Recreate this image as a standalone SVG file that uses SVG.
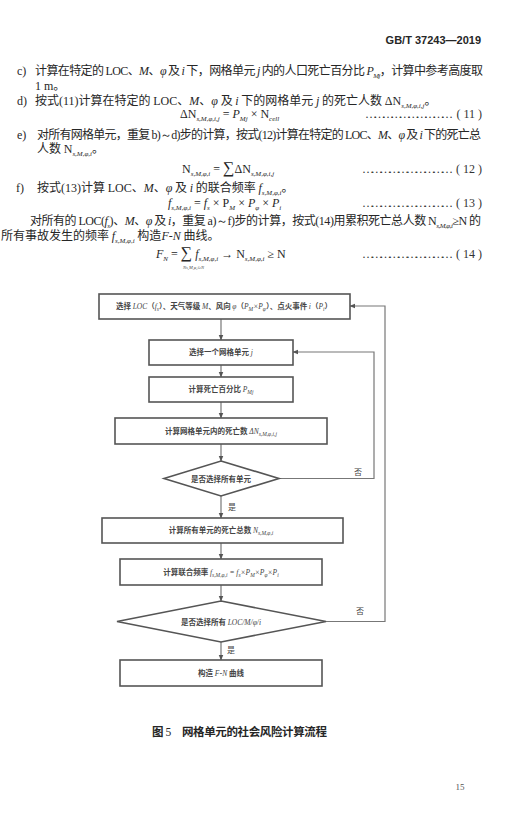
<svg xmlns="http://www.w3.org/2000/svg" width="525" height="827" viewBox="0 0 525 827">
<style>
.t{font-family:"Noto Sans CJK SC","Noto Sans",sans-serif;font-size:12px;fill:#262626}
.m{font-family:"Liberation Serif",serif;font-style:italic}
.r{font-family:"Liberation Serif",serif}
.s{font-size:7px}
.f{font-family:"Noto Sans CJK SC","Noto Sans",sans-serif;font-size:7.5px;font-weight:bold;fill:#444}
.fm{font-family:"Liberation Serif",serif;font-style:italic;font-weight:normal}
.fs{font-size:5.5px}
.box{fill:#fff;stroke:#555;stroke-width:1.6}
.ln{fill:none;stroke:#777;stroke-width:1.2}
.lbl{font-family:"Noto Sans CJK SC",sans-serif;font-size:8px;fill:#444}
.dots{font-family:"Liberation Serif",serif;font-size:12px;fill:#333}
</style>
<defs>
<marker id="ah" viewBox="0 0 10 10" refX="9" refY="5" markerWidth="5" markerHeight="5" orient="auto">
<path d="M0,1 L10,5 L0,9 z" fill="#555"/>
</marker>
</defs>
<rect width="525" height="827" fill="#fff"/>

<g id="page-text">
<text x="481" y="44" text-anchor="end" style="font-family:'Liberation Sans',sans-serif;font-weight:bold;font-size:11px;fill:#262626">GB/T 37243—2019</text>

<text class="t" x="17" y="75"><tspan class="r">c)</tspan></text>
<text class="t" x="35" y="75" textLength="448" lengthAdjust="spacing">计算在特定的 <tspan class="r">LOC</tspan>、<tspan class="m">M</tspan>、<tspan class="m">φ</tspan> 及 <tspan class="m">i</tspan> 下，网格单元 <tspan class="m">j</tspan> 内的人口死亡百分比 <tspan class="m">P</tspan><tspan class="m s" dy="3">Mj</tspan><tspan dy="-3">，计算中参考高度取</tspan></text>
<text class="t" x="35" y="90"><tspan class="r">1 m</tspan>。</text>

<text class="t" x="17" y="105"><tspan class="r">d)</tspan></text>
<text class="t" x="35" y="105">按式<tspan class="r">(11)</tspan>计算在特定的 <tspan class="r">LOC</tspan>、<tspan class="m">M</tspan>、<tspan class="m">φ</tspan> 及 <tspan class="m">i</tspan> 下的网格单元 <tspan class="m">j</tspan> 的死亡人数 <tspan class="r">ΔN</tspan><tspan class="m s" dy="3">s,M,φ,i,j</tspan><tspan dy="-3">。</tspan></text>
<text class="t r" x="180" y="118">ΔN<tspan class="m s" dy="3">s,M,φ,i,j</tspan><tspan dy="-3"> = </tspan><tspan class="m">P</tspan><tspan class="m s" dy="3">Mj</tspan><tspan dy="-3"> × N</tspan><tspan class="m s" dy="3">cell</tspan></text>
<text class="dots" x="365" y="118" textLength="88" lengthAdjust="spacing">…………………………</text>
<text class="dots" x="482" y="118" text-anchor="end">( 11 )</text>

<text class="t" x="17" y="139"><tspan class="r">e)</tspan></text>
<text class="t" x="37" y="139" textLength="444" lengthAdjust="spacing">对所有网格单元，重复 <tspan class="r">b)～d)</tspan>步的计算，按式<tspan class="r">(12)</tspan>计算在特定的 <tspan class="r">LOC</tspan>、<tspan class="m">M</tspan>、<tspan class="m">φ</tspan> 及 <tspan class="m">i</tspan> 下的死亡总</text>
<text class="t" x="37" y="153">人数 <tspan class="r">N</tspan><tspan class="m s" dy="3">s,M,φ,i</tspan><tspan dy="-3">。</tspan></text>
<text class="t r" x="182" y="173">N<tspan class="m s" dy="3">s,M,φ,i</tspan><tspan dy="-3"> = </tspan><tspan style="font-size:16px">∑</tspan><tspan>ΔN</tspan><tspan class="m s" dy="3">s,M,φ,i,j</tspan></text>
<text x="233" y="186" style="font-family:'Liberation Serif',serif;font-style:italic;font-size:6px;fill:#333">j</text>
<text class="dots" x="362" y="173" textLength="91" lengthAdjust="spacing">…………………………</text>
<text class="dots" x="482" y="173" text-anchor="end">( 12 )</text>

<text class="t" x="16" y="192"><tspan class="r">f)</tspan></text>
<text class="t" x="37" y="192">按式<tspan class="r">(13)</tspan>计算 <tspan class="r">LOC</tspan>、<tspan class="m">M</tspan>、<tspan class="m">φ</tspan> 及 <tspan class="m">i</tspan> 的联合频率 <tspan class="m">f</tspan><tspan class="m s" dy="3">s,M,φ,i</tspan><tspan dy="-3">。</tspan></text>
<text class="t r" x="168" y="207"><tspan class="m">f</tspan><tspan class="m s" dy="3">s,M,φ,i</tspan><tspan dy="-3"> = </tspan><tspan class="m">f</tspan><tspan class="m s" dy="3">s</tspan><tspan dy="-3"> × P</tspan><tspan class="m s" dy="3">M</tspan><tspan dy="-3"> × </tspan><tspan class="m">P</tspan><tspan class="m s" dy="3">φ</tspan><tspan dy="-3"> × </tspan><tspan class="m">P</tspan><tspan class="m s" dy="3">i</tspan></text>
<text class="dots" x="362" y="207" textLength="91" lengthAdjust="spacing">…………………………</text>
<text class="dots" x="482" y="207" text-anchor="end">( 13 )</text>

<text class="t" x="30" y="225" textLength="451" lengthAdjust="spacing">对所有的 <tspan class="r">LOC(</tspan><tspan class="m">f</tspan><tspan class="m s" dy="3">s</tspan><tspan class="r" dy="-3">)</tspan>、<tspan class="m">M</tspan>、<tspan class="m">φ</tspan> 及 <tspan class="m">i</tspan>，重复 <tspan class="r">a)～f)</tspan>步的计算，按式<tspan class="r">(14)</tspan>用累积死亡总人数 <tspan class="r">N</tspan><tspan class="m s" dy="3">s,M,φ,i</tspan><tspan class="r" dy="-3">≥N</tspan> 的</text>
<text class="t" x="1" y="240">所有事故发生的频率 <tspan class="m">f</tspan><tspan class="m s" dy="3">s,M,φ,i</tspan><tspan dy="-3"> 构造</tspan><tspan class="m">F</tspan><tspan class="r">-</tspan><tspan class="m">N</tspan> 曲线。</text>
<text class="t r" x="156" y="258"><tspan class="m">F</tspan><tspan class="m s" dy="3">N</tspan><tspan dy="-3"> = </tspan><tspan style="font-size:16px">∑</tspan><tspan class="m"> f</tspan><tspan class="m s" dy="3">s,M,φ,i</tspan><tspan dy="-3"> → N</tspan><tspan class="m s" dy="3">s,M,φ,i</tspan><tspan dy="-3"> ≥ N</tspan></text>
<text x="183" y="269" style="font-family:'Liberation Serif',serif;font-style:italic;font-size:4.5px;fill:#444">N<tspan>s,M,φ,i</tspan>≥N</text>
<text class="dots" x="362" y="258" textLength="91" lengthAdjust="spacing">…………………………</text>
<text class="dots" x="482" y="258" text-anchor="end">( 14 )</text>
</g>

<g id="connectors">
<line class="ln" x1="221" y1="319" x2="221" y2="340" marker-end="url(#ah)"/>
<line class="ln" x1="221" y1="365" x2="221" y2="377" marker-end="url(#ah)"/>
<line class="ln" x1="221" y1="402" x2="221" y2="418" marker-end="url(#ah)"/>
<line class="ln" x1="221" y1="444" x2="221" y2="461" marker-end="url(#ah)"/>
<line class="ln" x1="221" y1="496" x2="221" y2="518" marker-end="url(#ah)"/>
<line class="ln" x1="221" y1="543" x2="221" y2="559" marker-end="url(#ah)"/>
<line class="ln" x1="221" y1="585" x2="221" y2="601" marker-end="url(#ah)"/>
<line class="ln" x1="221" y1="642" x2="221" y2="660" marker-end="url(#ah)"/>
<polyline class="ln" points="279,478.5 374,478.5 374,352 293,352" marker-end="url(#ah)"/>
<polyline class="ln" points="326,621.5 385,621.5 385,306 350,306" marker-end="url(#ah)"/>
<text class="lbl" x="358" y="475" text-anchor="middle">否</text>
<text class="lbl" x="360" y="614" text-anchor="middle">否</text>
<text class="lbl" x="232" y="510" text-anchor="middle">是</text>
<text class="lbl" x="231" y="653" text-anchor="middle">是</text>
</g>

<g id="n1">
<rect class="box" x="99" y="294" width="251" height="25"/>
<text class="f" x="224" y="309" text-anchor="middle">选择 <tspan class="fm">LOC</tspan>（<tspan class="fm">f</tspan><tspan class="fm fs" dy="2">s</tspan><tspan dy="-2">）、天气等级 </tspan><tspan class="fm">M</tspan>、风向 <tspan class="fm">φ</tspan>（<tspan class="fm">P</tspan><tspan class="fm fs" dy="2">M</tspan><tspan class="fm" dy="-2">×P</tspan><tspan class="fm fs" dy="2">φ</tspan><tspan dy="-2">）、点火事件 </tspan><tspan class="fm">i</tspan>（<tspan class="fm">P</tspan><tspan class="fm fs" dy="2">i</tspan><tspan dy="-2">）</tspan></text>
</g>
<g id="n2">
<rect class="box" x="149" y="340" width="144" height="25"/>
<text class="f" x="221" y="355" text-anchor="middle">选择一个网格单元 <tspan class="fm">j</tspan></text>
</g>
<g id="n3">
<rect class="box" x="149" y="377" width="144" height="25"/>
<text class="f" x="221" y="392" text-anchor="middle">计算死亡百分比 <tspan class="fm">P</tspan><tspan class="fm fs" dy="2">Mj</tspan></text>
</g>
<g id="n4">
<rect class="box" x="115" y="418" width="212" height="26"/>
<text class="f" x="221" y="434" text-anchor="middle">计算网格单元内的死亡数 <tspan class="fm">ΔN</tspan><tspan class="fm fs" dy="2">s,M,φ,i,j</tspan></text>
</g>
<g id="d1">
<polygon class="box" points="221,461 279,478.5 221,496 164,478.5"/>
<text class="f" x="221" y="481.5" text-anchor="middle">是否选择所有单元</text>
</g>
<g id="n5">
<rect class="box" x="102" y="518" width="241" height="25"/>
<text class="f" x="221" y="533" text-anchor="middle">计算所有单元的死亡总数 <tspan class="fm">N</tspan><tspan class="fm fs" dy="2">s,M,φ,i</tspan></text>
</g>
<g id="n6">
<rect class="box" x="120" y="559" width="202" height="26"/>
<text class="f" x="221" y="575" text-anchor="middle">计算联合频率 <tspan class="fm">f</tspan><tspan class="fm fs" dy="2">s,M,φ,i</tspan><tspan class="fm" dy="-2"> = f</tspan><tspan class="fm fs" dy="2">s</tspan><tspan class="fm" dy="-2">×P</tspan><tspan class="fm fs" dy="2">M</tspan><tspan class="fm" dy="-2">×P</tspan><tspan class="fm fs" dy="2">φ</tspan><tspan class="fm" dy="-2">×P</tspan><tspan class="fm fs" dy="2">i</tspan></text>
</g>
<g id="d2">
<polygon class="box" points="221,601 326,621.5 221,642 117,621.5"/>
<text class="f" x="221" y="624.5" text-anchor="middle">是否选择所有 <tspan class="fm">LOC/M/φ/i</tspan></text>
</g>
<g id="n7">
<rect class="box" x="120" y="660" width="202" height="26"/>
<text class="f" x="221" y="676" text-anchor="middle">构造 <tspan class="fm">F</tspan>-<tspan class="fm">N</tspan> 曲线</text>
</g>

<g id="caption">
<text class="t" x="152" y="736" style="font-size:11.5px;font-weight:bold" textLength="175" lengthAdjust="spacing">图 <tspan class="r" style="font-weight:normal">5</tspan>　网格单元的社会风险计算流程</text>
<text class="r" x="460" y="790" text-anchor="middle" style="font-size:9px;fill:#555">15</text>
</g>
</svg>
